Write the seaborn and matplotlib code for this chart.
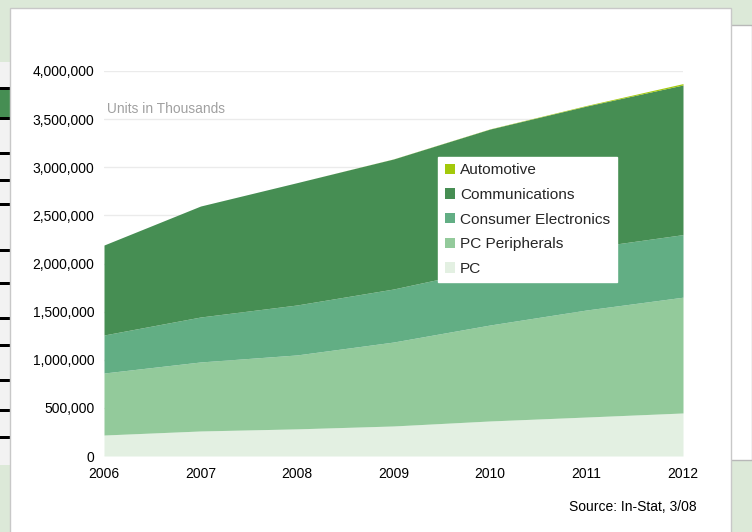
import matplotlib
matplotlib.use("Agg")
import matplotlib.pyplot as plt
from matplotlib.patches import Rectangle, Patch
from matplotlib.ticker import FuncFormatter
import seaborn as sns
import pandas as pd

# Units in thousands
years = [2006, 2007, 2008, 2009, 2010, 2011, 2012]
pc = [218000, 260000, 282000, 312000, 364000, 405000, 447000]
pc_peripherals = [644000, 717000, 768000, 872000, 997000, 1112000, 1203000]
consumer_electronics = [395000, 467000, 519000, 551000, 589000, 643000, 650000]
communications = [935000, 1153000, 1271000, 1351000, 1447000, 1476000, 1555000]
automotive = [0, 0, 0, 1000, 2000, 6000, 14000]

series_names = ["PC", "PC Peripherals", "Consumer Electronics", "Communications", "Automotive"]
colors = ["#e3f0e2", "#93ca9b", "#62ae84", "#468e53", "#a3c90a"]

df = pd.DataFrame({
    "PC": pc,
    "PC Peripherals": pc_peripherals,
    "Consumer Electronics": consumer_electronics,
    "Communications": communications,
    "Automotive": automotive,
}, index=years)

sns.set_theme(style="white")
plt.rcParams['font.family'] = ['Liberation Sans', 'DejaVu Sans']

W, H = 752, 532
fig = plt.figure(figsize=(W / 100, H / 100), dpi=100)
fig.patch.set_facecolor("#dce9d8")

def px_rect(x0, y0, x1, y1, **kw):
    # rectangle in figure pixel coords (top-left origin), behind the axes
    fig.add_artist(Rectangle((x0 / W, 1 - y1 / H), (x1 - x0) / W, (y1 - y0) / H,
                             transform=fig.transFigure, zorder=-10, **kw))

# backdrop of the slide behind the chart
px_rect(730, 25, W, 460, facecolor="white", edgecolor="#b8b8b8", lw=1)
px_rect(0, 62, 12, 465, facecolor="#f2f2f2", edgecolor="none")
px_rect(0, 88, 12, 118, facecolor="#468e53", edgecolor="none")
for yy in [88, 118, 153, 180, 205, 250, 283, 318, 345, 380, 410, 437]:
    px_rect(0, yy - 1.5, 12, yy + 1.5, facecolor="black", edgecolor="none")
# white chart panel
px_rect(10, 8, 731, H + 5, facecolor="white", edgecolor="#c8c8c8", lw=1)

ax = fig.add_axes([104 / W, 1 - 456 / H, (683 - 104) / W, (456 - 71) / H])
ax.set_facecolor("none")

ax.stackplot(df.index, [df[c] for c in series_names], colors=colors,
             labels=series_names, lw=0, zorder=2)

ax.set_xlim(2006, 2012)
ax.set_ylim(0, 4000000)
ax.set_yticks(range(0, 4000001, 500000))
ax.set_xticks(years)
ax.yaxis.set_major_formatter(FuncFormatter(lambda v, p: f"{int(v):,}"))
ax.grid(axis="y", color="#ebebeb", lw=1, zorder=0)
ax.grid(axis="x", visible=False)
for s in ax.spines.values():
    s.set_visible(False)
ax.tick_params(axis="both", length=0, labelsize=10, colors="black")
ax.tick_params(axis="y", pad=7)
ax.tick_params(axis="x", pad=8)

ax.text(2006.03, 3530000, "Units in Thousands", color="#a0a0a0", fontsize=9.9,
        ha="left", va="bottom")

handles = [Patch(facecolor=colors[i], edgecolor="none", label=series_names[i])
           for i in range(len(series_names) - 1, -1, -1)]
leg = ax.legend(handles=handles, loc="upper left", bbox_to_anchor=(0.577, 0.777),
                borderaxespad=0, frameon=True, fancybox=False, fontsize=11.1,
                handlelength=0.67, handleheight=0.67, handletextpad=0.33,
                labelspacing=0.69, borderpad=0.42)
leg.get_frame().set_facecolor("white")
leg.get_frame().set_edgecolor("white")
leg.get_frame().set_alpha(1)

fig.text(697 / W, 1 - 507 / H, "Source: In-Stat, 3/08", ha="right", va="center",
         fontsize=10, color="black")

fig.savefig("out.png", dpi=100, facecolor=fig.get_facecolor())
